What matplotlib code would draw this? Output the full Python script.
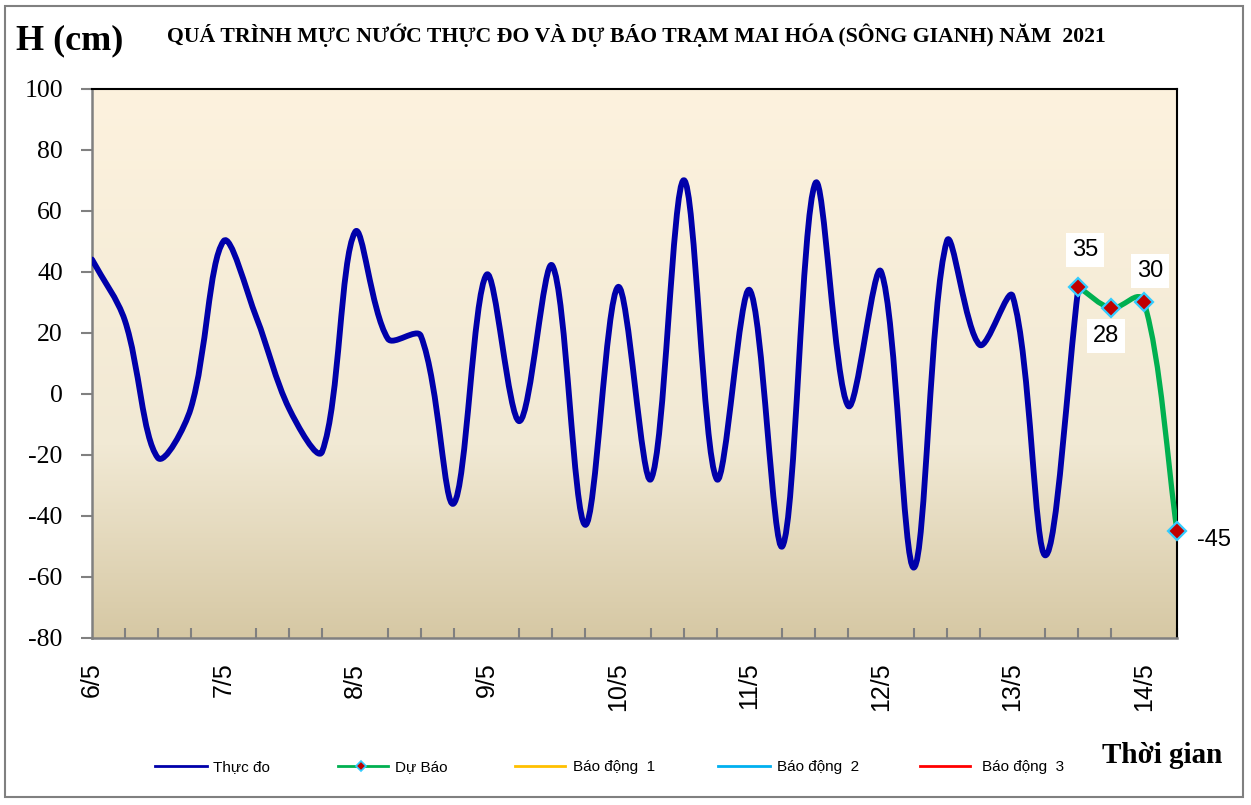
import numpy as np
import matplotlib
matplotlib.use("Agg")
import matplotlib.pyplot as plt
from matplotlib.path import Path
from matplotlib.patches import PathPatch, Rectangle
from matplotlib.lines import Line2D
from matplotlib.colors import LinearSegmentedColormap

# ---------------- data ----------------
# hours since 6/5 00h, 6-hourly
obs_hours = list(range(0, 181, 6))
obs_values = [44, 24, -21, -5, 50, 25, -5, -19, 53, 18, 19, -36, 39, -9, 42,
              -43, 35, -28, 70, -28, 34, -50, 69, -4, 40, -57, 50, 16, 32, -53, 35]
fc_hours = [180, 186, 192, 198]
fc_values = [35, 28, 30, -45]
day_labels = ["6/5", "7/5", "8/5", "9/5", "10/5", "11/5", "12/5", "13/5", "14/5"]
day_ticks = [0, 24, 48, 72, 96, 120, 144, 168, 192]
y_ticks = [-80, -60, -40, -20, 0, 20, 40, 60, 80, 100]
title = "QUÁ TRÌNH MỰC NƯỚC THỰC ĐO VÀ DỰ BÁO TRẠM MAI HÓA (SÔNG GIANH) NĂM  2021"
legend_labels = ["Thực đo", "Dự Báo", "Báo động  1", "Báo động  2", "Báo động  3"]
legend_colors = ["#0000AA", "#00B050", "#FFC000", "#00B0F0", "#FF0000"]

W, H = 1251, 805
fig = plt.figure(figsize=(W / 100, H / 100), dpi=100)
fig.patch.set_facecolor("white")

def fx(px):
    return px / W

def fy(py):
    return 1 - py / H

ax_l, ax_r, ax_t, ax_b = 92, 1177, 88.7, 637.7
XMIN, XMAX, YMIN, YMAX = 0, 198, -80, 100
ax = fig.add_axes([fx(ax_l), fy(ax_b), (ax_r - ax_l) / W, (ax_b - ax_t) / H])
ax.set_xlim(XMIN, XMAX)
ax.set_ylim(YMIN, YMAX)

# gradient background
cmap = LinearSegmentedColormap.from_list(
    "bg", [(0.0, (214/255, 200/255, 164/255)),
           (0.35, (241/255, 233/255, 212/255)),
           (1.0, (253/255, 242/255, 222/255))])
grad = np.linspace(0, 1, 256).reshape(-1, 1)
ax.imshow(grad, aspect="auto", cmap=cmap, origin="lower",
          extent=[XMIN, XMAX, YMIN, YMAX], zorder=0)

# pixel scale factors (for Excel-like smoothing computed in screen space)
SX = (ax_r - ax_l) / (XMAX - XMIN)
SY = (ax_b - ax_t) / (YMAX - YMIN)


def smooth_path(xs, ys, mix=0.0):
    pts = np.column_stack([np.asarray(xs, float) * SX, np.asarray(ys, float) * SY])
    n = len(pts)
    outc = [None] * n
    inc = [None] * n
    for i in range(n):
        p0 = pts[i - 1] if i > 0 else pts[i]
        p2 = pts[i + 1] if i < n - 1 else pts[i]
        d = p2 - p0
        lin = np.hypot(*(pts[i] - p0))
        lout = np.hypot(*(p2 - pts[i]))
        tot = lin + lout if lin + lout > 0 else 1.0
        wout = (1 - mix) * lout / tot + mix * 0.5
        win = (1 - mix) * lin / tot + mix * 0.5
        outc[i] = pts[i] + d * wout / 3.0
        inc[i] = pts[i] - d * win / 3.0
    verts = [pts[0]]
    codes = [Path.MOVETO]
    for i in range(n - 1):
        verts += [outc[i], inc[i + 1], pts[i + 1]]
        codes += [Path.CURVE4] * 3
    verts = np.array(verts)
    verts[:, 0] /= SX
    verts[:, 1] /= SY
    return Path(verts, codes)

ax.add_patch(PathPatch(smooth_path(obs_hours, obs_values), facecolor="none",
                       edgecolor="#0000AA", lw=4.2, capstyle="round",
                       joinstyle="round", zorder=3))
ax.add_patch(PathPatch(smooth_path(fc_hours, fc_values, mix=0.25), facecolor="none",
                       edgecolor="#00B050", lw=3.8, capstyle="round",
                       joinstyle="round", zorder=3))
ax.plot(fc_hours, fc_values, ls="none", marker="D", ms=9.5,
        mfc="#C00000", mec="#33CCFF", mew=1.6, zorder=5, clip_on=False)

# data labels
offsets = [(7, 37), (-5, -28), (6, 31), (37, -9)]
for xh, v, off in zip(fc_hours, fc_values, offsets):
    ax.annotate(str(v), (xh, v), xytext=off, textcoords="offset pixels",
                ha="center", va="center", fontsize=17, family="Liberation Sans",
                bbox=dict(boxstyle="square,pad=0.25", fc="white", ec="none"),
                zorder=6, annotation_clip=False)

# axes styling
for s in ["top", "right"]:
    ax.spines[s].set_color("black")
    ax.spines[s].set_linewidth(1.5)
for s in ["left", "bottom"]:
    ax.spines[s].set_color("#808080")
    ax.spines[s].set_linewidth(1.8)
ax.spines["top"].set_zorder(4)

ax.set_yticks(y_ticks)
ax.set_yticklabels([str(t) for t in y_ticks], family="Liberation Serif", fontsize=18.5)
ax.tick_params(axis="y", direction="out", length=8, width=1.5, color="#808080",
               pad=13)
ax.set_xticks(day_ticks)
ax.set_xticklabels(day_labels, rotation=90, family="Liberation Sans", fontsize=18)
ax.set_xticks(list(range(0, 199, 6)), minor=True)
ax.tick_params(axis="x", which="major", length=0, pad=18)
ax.tick_params(axis="x", which="minor", direction="in", length=7, width=1.5,
               color="#808080")

# texts
fig.text(fx(16), fy(41), "H (cm)", family="Liberation Serif", fontweight="bold",
         fontsize=26, ha="left", va="center")
fig.text(fx(636), fy(35), title, family="Liberation Serif", fontweight="bold",
         fontsize=15.7, ha="center", va="center")
fig.text(fx(1222), fy(755), "Thời gian", family="Liberation Serif",
         fontweight="bold", fontsize=21, ha="right", va="center")

# legend (manual)
leg_lines = [(155, 207, 213), (338, 388, 395), (515, 565, 573), (718, 770, 777),
             (920, 970, 982)]
ly = fy(766)
for i, ((x0, x1, tx), lab, col) in enumerate(zip(leg_lines, legend_labels, legend_colors)):
    fig.add_artist(Line2D([fx(x0), fx(x1)], [ly, ly], color=col, lw=2,
                          transform=fig.transFigure))
    if i == 1:
        fig.add_artist(Line2D([fx(361)], [ly], marker="D", ms=5,
                              mfc="#C00000", mec="#33CCFF", mew=1.2,
                              transform=fig.transFigure))
    fig.text(fx(tx), fy(767), lab, family="Liberation Sans", fontsize=11,
             ha="left", va="center")

# outer frame
fig.add_artist(Rectangle((fx(5), fy(797)), fx(1243) - fx(5), fy(6) - fy(797),
                         transform=fig.transFigure, fill=False,
                         ec="#808080", lw=1.5))

fig.savefig("out.png", dpi=100)
